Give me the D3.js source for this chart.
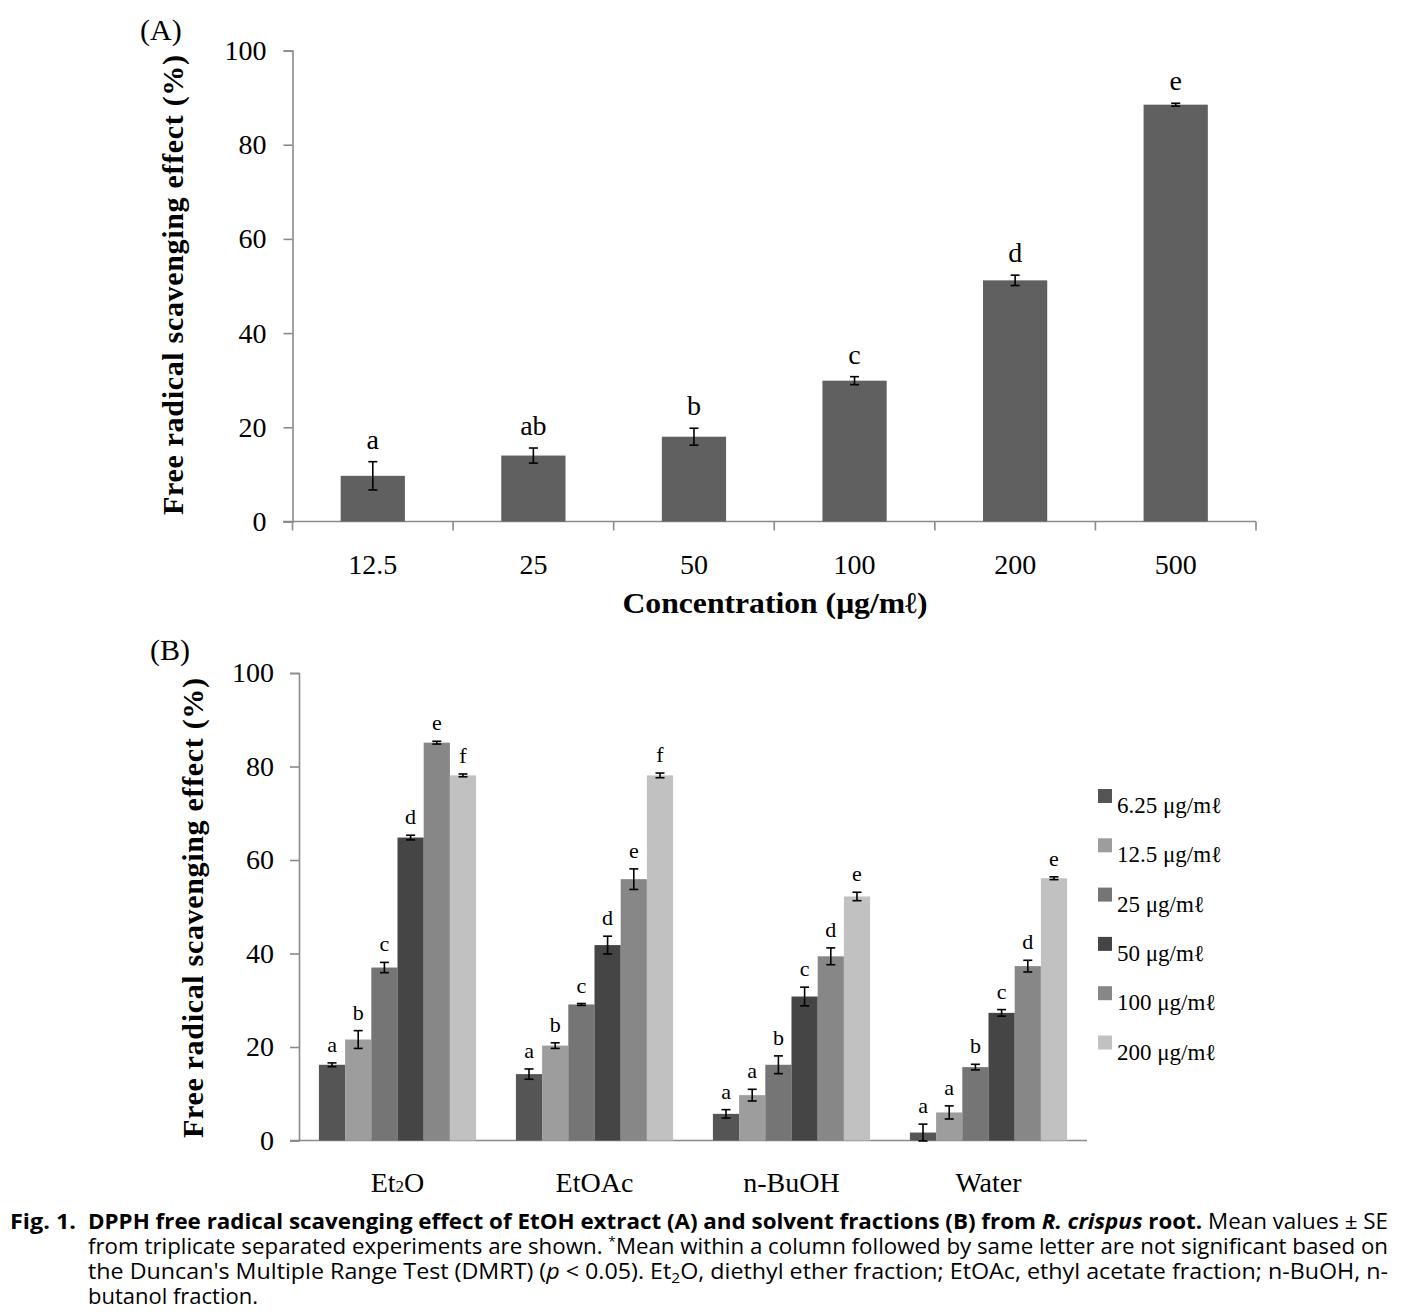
<!DOCTYPE html>
<html>
<head>
    <meta charset="utf-8">
    <script src="https://d3js.org/d3.v7.min.js"></script>
    <style>
        body { margin: 0; background: #fff; }
        svg { display: block; }
        .serif { font-family: "Liberation Serif", "Times New Roman", serif; fill: #000; }
        .cap { font-family: "Liberation Sans Narrow", "Open Sans", "Noto Sans", sans-serif; fill: #000; }
    </style>
</head>
<body>
<script>
// panel A: EtOH extract
const concA = ['12.5', '25', '50', '100', '200', '500'];
const valA = [9.7, 14.0, 18.0, 29.9, 51.2, 88.5];
const errA = [3.0, 1.6, 1.8, 0.85, 1.1, 0.3];
const letA = ['a', 'ab', 'b', 'c', 'd', 'e'];

// panel B: solvent fractions
const fractions = ['Et2O', 'EtOAc', 'n-BuOH', 'Water'];
const concB = ['6.25', '12.5', '25', '50', '100', '200'];
const colorsB = ['#555555', '#9d9d9d', '#757575', '#454545', '#878787', '#c1c1c1'];
const valEt2O = [16.2, 21.6, 37.0, 64.8, 85.1, 78.1];
const errEt2O = [0.4, 1.9, 1.1, 0.5, 0.3, 0.3];
const letEt2O = ['a', 'b', 'c', 'd', 'e', 'f'];
const valEtOAc = [14.2, 20.3, 29.1, 41.8, 55.9, 78.1];
const errEtOAc = [1.1, 0.6, 0.2, 1.9, 2.2, 0.5];
const letEtOAc = ['a', 'b', 'c', 'd', 'e', 'f'];
const valBuOH = [5.7, 9.7, 16.2, 30.8, 39.4, 52.2];
const errBuOH = [0.9, 1.25, 1.9, 2.0, 1.8, 0.9];
const letBuOH = ['a', 'a', 'b', 'c', 'd', 'e'];
const valWater = [1.7, 6.0, 15.7, 27.3, 37.3, 56.1];
const errWater = [1.8, 1.4, 0.6, 0.7, 1.25, 0.3];
const letWater = ['a', 'a', 'b', 'c', 'd', 'e'];
const yTicks = [0, 20, 40, 60, 80, 100];

const valsB = [valEt2O, valEtOAc, valBuOH, valWater];
const errsB = [errEt2O, errEtOAc, errBuOH, errWater];
const letsB = [letEt2O, letEtOAc, letBuOH, letWater];

const width = 1404, height = 1316;
const axisColor = '#8a8a8a';

const svg = d3.select('body').append('svg')
    .attr('width', width)
    .attr('height', height);

const yTitle = 'Free radical scavenging effect (%)';

function errorBar(g, cx, yScale, v, e, cap) {
    g.append('line')
        .attr('x1', cx).attr('x2', cx)
        .attr('y1', yScale(v + e)).attr('y2', yScale(v - e))
        .attr('stroke', '#000').attr('stroke-width', 1.6);
    [v + e, v - e].forEach(t => {
        g.append('line')
            .attr('x1', cx - cap).attr('x2', cx + cap)
            .attr('y1', yScale(t)).attr('y2', yScale(t))
            .attr('stroke', '#000').attr('stroke-width', 1.6);
    });
}

// ---------- panel A ----------
const xA = d3.scaleBand().domain(concA).range([292.5, 1256]).padding(0);
const yA = d3.scaleLinear().domain([0, 100]).range([521.5, 50.5]);

const gA = svg.append('g');

const axA = gA.append('g')
    .attr('transform', 'translate(292.5,0)')
    .call(d3.axisLeft(yA).tickValues(yTicks).tickSize(9).tickPadding(17));
axA.select('.domain').attr('stroke', axisColor).attr('stroke-width', 1.6);
axA.selectAll('.tick line').attr('stroke', axisColor).attr('stroke-width', 1.6);
axA.selectAll('.tick text').attr('class', 'serif').style('font-size', '28px').attr('fill', '#000');

gA.append('line')
    .attr('x1', 283).attr('x2', xA.range()[1])
    .attr('y1', yA(0)).attr('y2', yA(0))
    .attr('stroke', axisColor).attr('stroke-width', 1.6);
gA.selectAll('.xtick')
    .data(concA.map(d => xA(d)).concat([xA.range()[1]]))
    .join('line')
    .attr('x1', d => d).attr('x2', d => d)
    .attr('y1', yA(0)).attr('y2', yA(0) + 9)
    .attr('stroke', axisColor).attr('stroke-width', 1.6);

const bwA = xA.bandwidth() * 0.4;
gA.selectAll('.barA')
    .data(concA)
    .join('rect')
    .attr('x', d => xA(d) + (xA.bandwidth() - bwA) / 2)
    .attr('y', (d, i) => yA(valA[i]))
    .attr('width', bwA)
    .attr('height', (d, i) => yA(0) - yA(valA[i]))
    .attr('fill', '#606060');

concA.forEach((d, i) => {
    const cx = xA(d) + xA.bandwidth() / 2;
    errorBar(gA, cx, yA, valA[i], errA[i], 4.5);
    gA.append('text').attr('class', 'serif')
        .attr('x', cx).attr('y', yA(valA[i] + errA[i]) - 13)
        .attr('text-anchor', 'middle').style('font-size', '28px')
        .text(letA[i]);
    gA.append('text').attr('class', 'serif')
        .attr('x', cx).attr('y', 574)
        .attr('text-anchor', 'middle').style('font-size', '28px')
        .text(d);
});

gA.append('text').attr('class', 'serif')
    .attr('x', 775).attr('y', 613)
    .attr('text-anchor', 'middle')
    .attr('textLength', 305).attr('lengthAdjust', 'spacingAndGlyphs')
    .style('font-size', '30px').style('font-weight', 'bold')
    .text('Concentration (μg/mℓ)');

gA.append('text').attr('class', 'serif')
    .attr('transform', 'translate(183,285) rotate(-90)')
    .attr('text-anchor', 'middle')
    .attr('textLength', 460).attr('lengthAdjust', 'spacing')
    .style('font-size', '30px').style('font-weight', 'bold')
    .text(yTitle);

gA.append('text').attr('class', 'serif')
    .attr('x', 140).attr('y', 40)
    .style('font-size', '30px')
    .text('(A)');

// ---------- panel B ----------
const x0 = d3.scaleBand().domain(fractions).range([299, 1087]).padding(0);
const x1 = d3.scaleBand().domain(concB).range([0, x0.bandwidth()]).paddingInner(0).paddingOuter(0.76);
const yB = d3.scaleLinear().domain([0, 100]).range([1140.5, 673]);

const gB = svg.append('g');

const axB = gB.append('g')
    .attr('transform', 'translate(299,0)')
    .call(d3.axisLeft(yB).tickValues(yTicks).tickSize(9).tickPadding(16));
axB.select('.domain').attr('stroke', axisColor).attr('stroke-width', 1.6);
axB.selectAll('.tick line').attr('stroke', axisColor).attr('stroke-width', 1.6);
axB.selectAll('.tick text').attr('class', 'serif').style('font-size', '28px').attr('fill', '#000');

gB.append('line')
    .attr('x1', 290).attr('x2', x0.range()[1])
    .attr('y1', yB(0)).attr('y2', yB(0))
    .attr('stroke', axisColor).attr('stroke-width', 1.6);

fractions.forEach((f, fi) => {
    const grp = gB.append('g').attr('transform', `translate(${x0(f)},0)`);
    grp.selectAll('rect')
        .data(concB)
        .join('rect')
        .attr('x', d => x1(d))
        .attr('y', (d, i) => yB(valsB[fi][i]))
        .attr('width', x1.bandwidth())
        .attr('height', (d, i) => yB(0) - yB(valsB[fi][i]))
        .attr('fill', (d, i) => colorsB[i]);
    concB.forEach((d, i) => {
        const cx = x1(d) + x1.bandwidth() / 2;
        const v = valsB[fi][i], e = errsB[fi][i];
        errorBar(grp, cx, yB, v, e, 4.5);
        grp.append('text').attr('class', 'serif')
            .attr('x', cx).attr('y', yB(v + e) - 11)
            .attr('text-anchor', 'middle').style('font-size', '22px')
            .text(letsB[fi][i]);
    });
    const lab = gB.append('text').attr('class', 'serif')
        .attr('x', x0(f) + x0.bandwidth() / 2).attr('y', 1192)
        .attr('text-anchor', 'middle').style('font-size', '28px');
    if (f === 'Et2O') {
        lab.append('tspan').text('Et');
        lab.append('tspan').style('font-size', '17px').text('2');
        lab.append('tspan').text('O');
    } else {
        lab.text(f);
    }
});

gB.append('text').attr('class', 'serif')
    .attr('transform', 'translate(203,908) rotate(-90)')
    .attr('text-anchor', 'middle')
    .attr('textLength', 460).attr('lengthAdjust', 'spacing')
    .style('font-size', '30px').style('font-weight', 'bold')
    .text(yTitle);

gB.append('text').attr('class', 'serif')
    .attr('x', 150).attr('y', 660)
    .style('font-size', '30px')
    .text('(B)');

// legend
const leg = gB.selectAll('.leg')
    .data(concB)
    .join('g')
    .attr('transform', (d, i) => `translate(1098,${789 + i * 49.3})`);
leg.append('rect')
    .attr('width', 14).attr('height', 14)
    .attr('fill', (d, i) => colorsB[i]);
leg.append('text').attr('class', 'serif')
    .attr('x', 19).attr('y', 24)
    .style('font-size', '23px')
    .text(d => d + ' μg/mℓ');

// ---------- caption ----------
const cap = svg.append('g').attr('class', 'cap').style('font-size', '21px');
cap.append('text').attr('x', 10).attr('y', 1229)
    .style('font-weight', 'bold').attr('textLength', 66).attr('lengthAdjust', 'spacingAndGlyphs')
    .text('Fig. 1.');
const l1 = cap.append('text').attr('x', 88).attr('y', 1229)
    .attr('textLength', 1300).attr('lengthAdjust', 'spacingAndGlyphs');
l1.append('tspan').style('font-weight', 'bold').text('DPPH free radical scavenging effect of EtOH extract (A) and solvent fractions (B) from ');
l1.append('tspan').style('font-weight', 'bold').style('font-style', 'italic').text('R. crispus');
l1.append('tspan').style('font-weight', 'bold').text(' root.');
l1.append('tspan').text(' Mean values ± SE');

const l2 = cap.append('text').attr('x', 88).attr('y', 1254)
    .attr('textLength', 1300).attr('lengthAdjust', 'spacingAndGlyphs');
l2.append('tspan').text('from triplicate separated experiments are shown. ');
l2.append('tspan').style('font-size', '13px').attr('dy', -8).text('*');
l2.append('tspan').attr('dy', 8).text('Mean within a column followed by same letter are not significant based on');

const l3 = cap.append('text').attr('x', 88).attr('y', 1279)
    .attr('textLength', 1300).attr('lengthAdjust', 'spacingAndGlyphs');
l3.append('tspan').text('the Duncan\'s Multiple Range Test (DMRT) (');
l3.append('tspan').style('font-style', 'italic').text('p');
l3.append('tspan').text(' < 0.05). Et');
l3.append('tspan').style('font-size', '14px').attr('dy', 4).text('2');
l3.append('tspan').attr('dy', -4).text('O, diethyl ether fraction; EtOAc, ethyl acetate fraction; n-BuOH, n-');

cap.append('text').attr('x', 88).attr('y', 1304)
    .attr('textLength', 170).attr('lengthAdjust', 'spacingAndGlyphs')
    .text('butanol fraction.');
</script>
</body>
</html>
